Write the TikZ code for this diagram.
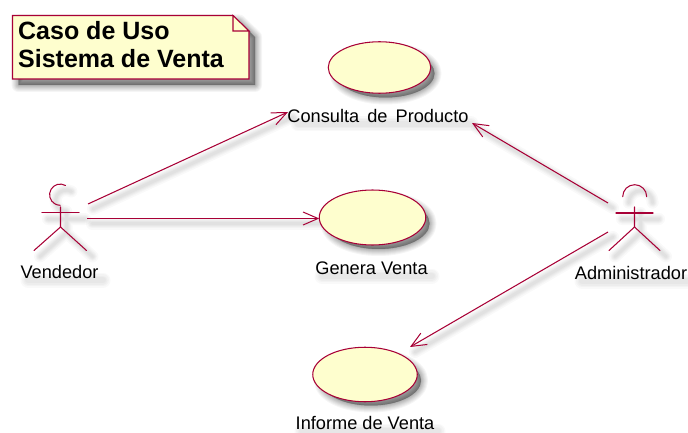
\documentclass[tikz,border=0pt]{standalone}
\usepackage{fontspec}
\setmainfont{Liberation Sans}
\usetikzlibrary{arrows.meta,shapes.geometric}
\definecolor{umlline}{HTML}{A80036}
\definecolor{umlfill}{HTML}{FEFECE}
\tikzset{
  umlstroke/.style={draw=umlline,line width=1.05pt},
  usecase/.style={ellipse,umlstroke,fill=umlfill,inner sep=0pt},
  flow/.style={umlstroke,-{Straight Barb[length=15pt,width=13pt,line width=1pt]},shorten >=0pt},
  limb/.style={umlstroke,line cap=round},
  lbl/.style={inner sep=0pt,font=\fontsize{18.2}{20}\selectfont,text=black,anchor=center},
  notetext/.style={inner sep=0pt,align=left,anchor=north west,font=\fontsize{25}{28}\selectfont\bfseries,text=black},
  soft/.style={draw=black,fill=black,opacity=.04,line join=round,line cap=round},
}
% soft shadow: stacked translucent outlines of one path
\newcommand{\softpath}[2]{%
  \foreach \w in {14,12,10,8,6.5,5,3.5,2,1,0.2}{\path[soft,line width=\w pt,shift={(#1)}] #2;}}
\newcommand{\softline}[2]{%
  \foreach \w in {12,9,7,5,3}{\path[draw=black,opacity=.022,line cap=round,line join=round,line width=\w pt,shift={(#1)}] #2;}}
\newcommand{\softtext}[4]{%
  \foreach \w in {15,12,9,6}{\path[draw=black,opacity=#4,line cap=round,line width=\w pt] (#1,#3) -- (#2,#3);}}
\begin{document}
\begin{tikzpicture}[x=1pt,y=-1pt]
\useasboundingbox (0,0) rectangle (688,433);
\fill[white] (0,0) rectangle (688,433);

% named anchor points
\coordinate (vfrom1) at (88,204);
\coordinate (vfrom2) at (87,218.5);
\coordinate (afrom1) at (608,203);
\coordinate (afrom2) at (608,232);
\coordinate (cto1) at (288,112);
\coordinate (cto2) at (472,123);
\coordinate (ito) at (410,347);
\coordinate (gto) at (319.3,218.5);

% shadows
\softpath{6,6}{(12.5,15.5) -- (233,15.5) -- (249,31) -- (249,79) -- (12.5,79) -- cycle}
\softpath{6,6}{(379.5,67.5) ellipse [x radius=49,y radius=24]}
\softpath{6,6}{(372.5,217.5) ellipse [x radius=51,y radius=25.5]}
\softpath{6,6}{(365,374.5) ellipse [x radius=50,y radius=25]}
\softline{5,5}{(88,204) -- (288,112)}
\softline{5,5}{(87,218.5) -- (319,218.5)}
\softline{5,5}{(608,203) -- (472,123)}
\softline{5,5}{(608,232) -- (410,347)}
\softline{6,6}{(65.5,185.5) arc (-60:-270:10.6) (42,213) -- (79,213) (60.5,207) -- (60.5,227) -- (34,250.5) (60.5,227) -- (86.5,250.5)}
\softline{6,6}{(622.7,196.7) arc (180:360:12) (616,213) -- (653,213) (634.5,207) -- (634.5,227) -- (609,250.5) (634.5,227) -- (660,250.5)}
\softtext{28}{103}{280}{.022}
\softtext{298}{471}{124}{.022}
\softtext{322}{432}{276}{.022}
\softtext{582}{690}{281}{.022}
\softtext{302}{438}{431}{.022}

% note
\path[umlstroke,fill=umlfill,line join=miter] (12.5,15.5) -- (233,15.5) -- (249,31) -- (249,79) -- (12.5,79) -- cycle;
\path[umlstroke,fill=umlfill,line join=miter] (233,15.5) -- (233,31) -- (249,31) -- cycle;
\node[notetext] (title) at (18,21) {Caso de Uso\\Sistema de Venta};

% use cases
\node[usecase,minimum width=102.5pt,minimum height=51.5pt] (consulta) at (379.5,67.5) {};
\node[usecase,minimum width=106.5pt,minimum height=55pt] (genera) at (372.5,217.5) {};
\node[usecase,minimum width=104.5pt,minimum height=54.5pt] (informe) at (365,374.5) {};

% labels
\node[lbl] (lconsulta) at (378,116) {Consulta\hspace{3pt} de\hspace{3pt} Producto};
\node[lbl] (lgenera) at (371.5,268) {Genera Venta};
\node[lbl] (linforme) at (365,423) {Informe de Venta};
\node[lbl] (lvendedor) at (59.5,272) {Vendedor};
\node[lbl] (ladmin) at (631,273) {Administrador};

% Vendedor actor
\coordinate (vneck) at (60.5,207);
\coordinate (vhip) at (60.5,227);
\coordinate (vlarm) at (42,212.7);
\coordinate (vrarm) at (79,212.7);
\coordinate (vlleg) at (34,250.5);
\coordinate (vrleg) at (86.5,250.5);
\draw[limb] (65.5,185.5) arc (-60:-270:10.6);
\draw[limb] (vlarm) -- (vrarm);
\draw[limb] (vneck) -- (vhip) -- (vlleg);
\draw[limb] (vhip) -- (vrleg);

% Administrador actor
\coordinate (aneck) at (634.5,207);
\coordinate (ahip) at (634.5,227);
\coordinate (alarm) at (616,213);
\coordinate (ararm) at (653,213);
\coordinate (alleg) at (609,250.5);
\coordinate (arleg) at (660,250.5);
\draw[limb] (622.7,196.7) arc (180:360:12);
\draw[limb] (alarm) -- (ararm);
\draw[limb] (aneck) -- (ahip) -- (alleg);
\draw[limb] (ahip) -- (arleg);

% connectors
\draw[flow] (vfrom1) -- (cto1);
\draw[flow] (vfrom2) -- (gto);
\draw[flow] (afrom1) -- (cto2);
\draw[flow] (afrom2) -- (ito);
\end{tikzpicture}
\end{document}
